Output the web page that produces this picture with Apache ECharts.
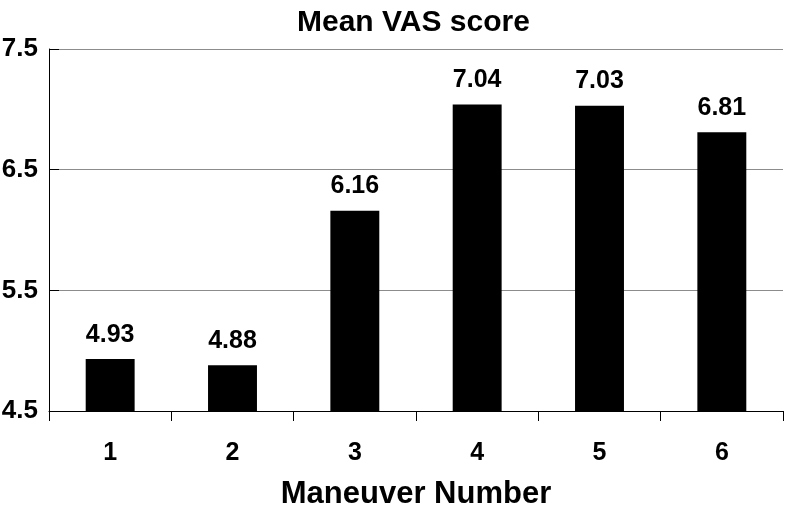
<!DOCTYPE html>
<html>
<head>
<meta charset="utf-8">
<script src="https://cdn.jsdelivr.net/npm/echarts@6/dist/echarts.min.js"></script>
<style>
  html, body { margin: 0; padding: 0; background: #fff; }
  #chart { width: 786px; height: 509px; }
</style>
</head>
<body>
<div id="chart"></div>
<script>
// 数据
var categories = ['1', '2', '3', '4', '5', '6']
var meanScores = [4.93, 4.88, 6.16, 7.04, 7.03, 6.81]
var yTickLabels = ['4.5', '5.5', '6.5', '7.5']

var fontFamily = "'Liberation Sans', Arial, sans-serif"
var gridColor = '#8c8c8c'

var myChart = echarts.init(document.getElementById('chart'))

var option = {
  animation: false,
  title: {
    text: 'Mean VAS score',
    left: 292,
    top: 3,
    textStyle: { fontFamily: fontFamily, fontSize: 30, fontWeight: 'bold', color: '#000' }
  },
  grid: { left: 49, right: 3, top: 49, bottom: 98, outerBoundsMode: 'none', containLabel: false },
  xAxis: {
    type: 'category',
    data: categories,
    name: 'Maneuver Number',
    nameLocation: 'middle',
    nameGap: 68,
    nameTextStyle: { fontFamily: fontFamily, fontSize: 31, fontWeight: 'bold', color: '#000' },
    axisLine: { lineStyle: { color: '#000', width: 1 } },
    axisTick: { show: true, length: 10, lineStyle: { color: '#000' } },
    axisLabel: { margin: 30, fontFamily: fontFamily, fontSize: 25, fontWeight: 'bold', color: '#000' }
  },
  yAxis: [{
    type: 'value',
    min: 4.5,
    max: 7.5,
    interval: 0.5,
    axisLine: { show: true, lineStyle: { color: '#000', width: 1 } },
    axisTick: { show: false },
    // 只显示 x.5 的刻度标签
    axisLabel: {
      margin: 11,
      fontFamily: fontFamily, fontSize: 26, fontWeight: 'bold', color: '#000',
      formatter: function (v) {
        var s = v.toFixed(1)
        return yTickLabels.indexOf(s) >= 0 ? s : ''
      }
    },
    splitLine: { show: true, lineStyle: { color: [gridColor, 'rgba(0,0,0,0)'], width: 1 } }
  }, {
    // 仅用于画向内的刻度线
    type: 'value',
    position: 'left',
    min: 0,
    max: yTickLabels.length - 1,
    interval: 1,
    axisLine: { show: false },
    axisTick: { show: true, inside: true, length: 10, lineStyle: { color: '#000' } },
    axisLabel: { show: false },
    splitLine: { show: false }
  }],
  series: [{
    type: 'bar',
    data: meanScores,
    yAxisIndex: 0,
    barWidth: '40%',
    itemStyle: { color: '#000' },
    label: {
      show: true,
      position: 'top',
      distance: 12,
      fontFamily: fontFamily, fontSize: 25, fontWeight: 'bold', color: '#000',
      formatter: function (p) { return p.value.toFixed(2) }
    }
  }]
}

myChart.setOption(option)
</script>
</body>
</html>
